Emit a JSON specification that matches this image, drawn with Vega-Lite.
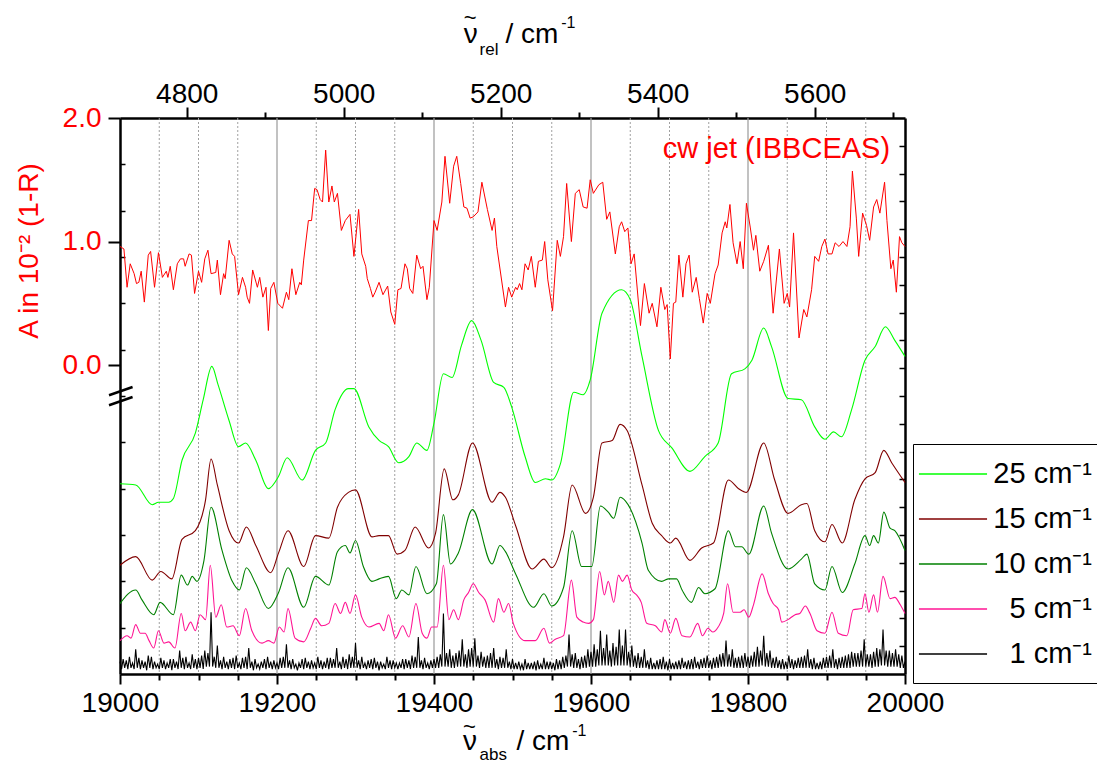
{
  "$schema": "https://vega.github.io/schema/vega-lite/v6.json",
  "width": 785,
  "height": 556,
  "autosize": {"type": "none"},
  "padding": {"left": 120, "top": 118, "right": 192, "bottom": 92},
  "background": "white",
  "config": {"font": "Liberation Sans", "view": {"stroke": null}},
  "datasets": {
    "grid": [{"g":19050},{"g":19100},{"g":19150},{"g":19200},{"g":19250},{"g":19300},{"g":19350},{"g":19400},{"g":19450},{"g":19500},{"g":19550},{"g":19600},{"g":19650},{"g":19700},{"g":19750},{"g":19800},{"g":19850},{"g":19900},{"g":19950}],
    "spec": [
      {"x":19000,"y":-0.96,"s":"25"},{"x":19020,"y":-0.97,"s":"25"},{"x":19041,"y":-1.13,"s":"25"},{"x":19049,"y":-1.11,"s":"25"},{"x":19062,"y":-1.11,"s":"25"},{"x":19068,"y":-1.08,"s":"25"},{"x":19079,"y":-0.77,"s":"25"},{"x":19096,"y":-0.55,"s":"25"},{"x":19106,"y":-0.28,"s":"25"},{"x":19117,"y":-0.01,"s":"25"},{"x":19125,"y":-0.16,"s":"25"},{"x":19139,"y":-0.45,"s":"25"},{"x":19151,"y":-0.66,"s":"25"},{"x":19160,"y":-0.63,"s":"25"},{"x":19173,"y":-0.77,"s":"25"},{"x":19189,"y":-1.00,"s":"25"},{"x":19202,"y":-0.90,"s":"25"},{"x":19213,"y":-0.75,"s":"25"},{"x":19232,"y":-0.93,"s":"25"},{"x":19249,"y":-0.69,"s":"25"},{"x":19262,"y":-0.63,"s":"25"},{"x":19274,"y":-0.36,"s":"25"},{"x":19291,"y":-0.19,"s":"25"},{"x":19298,"y":-0.19,"s":"25"},{"x":19317,"y":-0.50,"s":"25"},{"x":19330,"y":-0.61,"s":"25"},{"x":19342,"y":-0.66,"s":"25"},{"x":19355,"y":-0.79,"s":"25"},{"x":19368,"y":-0.74,"s":"25"},{"x":19378,"y":-0.63,"s":"25"},{"x":19391,"y":-0.69,"s":"25"},{"x":19400,"y":-0.47,"s":"25"},{"x":19412,"y":-0.07,"s":"25"},{"x":19423,"y":-0.10,"s":"25"},{"x":19435,"y":0.16,"s":"25"},{"x":19448,"y":0.36,"s":"25"},{"x":19460,"y":0.20,"s":"25"},{"x":19476,"y":-0.14,"s":"25"},{"x":19489,"y":-0.18,"s":"25"},{"x":19499,"y":-0.34,"s":"25"},{"x":19516,"y":-0.74,"s":"25"},{"x":19529,"y":-0.95,"s":"25"},{"x":19542,"y":-0.92,"s":"25"},{"x":19550,"y":-0.93,"s":"25"},{"x":19561,"y":-0.80,"s":"25"},{"x":19578,"y":-0.22,"s":"25"},{"x":19590,"y":-0.24,"s":"25"},{"x":19599,"y":-0.12,"s":"25"},{"x":19614,"y":0.42,"s":"25"},{"x":19639,"y":0.61,"s":"25"},{"x":19650,"y":0.53,"s":"25"},{"x":19665,"y":0.07,"s":"25"},{"x":19686,"y":-0.53,"s":"25"},{"x":19703,"y":-0.67,"s":"25"},{"x":19726,"y":-0.86,"s":"25"},{"x":19745,"y":-0.74,"s":"25"},{"x":19762,"y":-0.63,"s":"25"},{"x":19779,"y":-0.07,"s":"25"},{"x":19796,"y":-0.03,"s":"25"},{"x":19805,"y":0.04,"s":"25"},{"x":19820,"y":0.30,"s":"25"},{"x":19830,"y":0.15,"s":"25"},{"x":19851,"y":-0.27,"s":"25"},{"x":19868,"y":-0.28,"s":"25"},{"x":19885,"y":-0.50,"s":"25"},{"x":19898,"y":-0.60,"s":"25"},{"x":19909,"y":-0.54,"s":"25"},{"x":19919,"y":-0.58,"s":"25"},{"x":19932,"y":-0.36,"s":"25"},{"x":19949,"y":0.04,"s":"25"},{"x":19962,"y":0.15,"s":"25"},{"x":19975,"y":0.31,"s":"25"},{"x":19987,"y":0.20,"s":"25"},{"x":20000,"y":0.07,"s":"25"},
      {"x":19000,"y":-1.62,"s":"15"},{"x":19020,"y":-1.55,"s":"15"},{"x":19041,"y":-1.74,"s":"15"},{"x":19052,"y":-1.67,"s":"15"},{"x":19066,"y":-1.73,"s":"15"},{"x":19079,"y":-1.41,"s":"15"},{"x":19096,"y":-1.34,"s":"15"},{"x":19109,"y":-1.09,"s":"15"},{"x":19116,"y":-0.76,"s":"15"},{"x":19124,"y":-0.97,"s":"15"},{"x":19139,"y":-1.34,"s":"15"},{"x":19151,"y":-1.44,"s":"15"},{"x":19161,"y":-1.31,"s":"15"},{"x":19173,"y":-1.46,"s":"15"},{"x":19192,"y":-1.68,"s":"15"},{"x":19202,"y":-1.52,"s":"15"},{"x":19214,"y":-1.34,"s":"15"},{"x":19234,"y":-1.63,"s":"15"},{"x":19249,"y":-1.38,"s":"15"},{"x":19266,"y":-1.40,"s":"15"},{"x":19277,"y":-1.15,"s":"15"},{"x":19291,"y":-1.03,"s":"15"},{"x":19300,"y":-1.01,"s":"15"},{"x":19321,"y":-1.39,"s":"15"},{"x":19330,"y":-1.38,"s":"15"},{"x":19342,"y":-1.38,"s":"15"},{"x":19353,"y":-1.53,"s":"15"},{"x":19363,"y":-1.50,"s":"15"},{"x":19376,"y":-1.31,"s":"15"},{"x":19393,"y":-1.48,"s":"15"},{"x":19402,"y":-1.36,"s":"15"},{"x":19413,"y":-0.84,"s":"15"},{"x":19424,"y":-1.09,"s":"15"},{"x":19431,"y":-1.05,"s":"15"},{"x":19449,"y":-0.63,"s":"15"},{"x":19474,"y":-1.11,"s":"15"},{"x":19484,"y":-1.03,"s":"15"},{"x":19491,"y":-1.07,"s":"15"},{"x":19504,"y":-1.30,"s":"15"},{"x":19525,"y":-1.65,"s":"15"},{"x":19540,"y":-1.57,"s":"15"},{"x":19550,"y":-1.64,"s":"15"},{"x":19565,"y":-1.39,"s":"15"},{"x":19576,"y":-0.97,"s":"15"},{"x":19593,"y":-1.20,"s":"15"},{"x":19603,"y":-1.07,"s":"15"},{"x":19614,"y":-0.63,"s":"15"},{"x":19627,"y":-0.61,"s":"15"},{"x":19637,"y":-0.48,"s":"15"},{"x":19646,"y":-0.53,"s":"15"},{"x":19665,"y":-0.97,"s":"15"},{"x":19678,"y":-1.28,"s":"15"},{"x":19690,"y":-1.38,"s":"15"},{"x":19701,"y":-1.44,"s":"15"},{"x":19708,"y":-1.40,"s":"15"},{"x":19726,"y":-1.58,"s":"15"},{"x":19741,"y":-1.48,"s":"15"},{"x":19756,"y":-1.44,"s":"15"},{"x":19775,"y":-0.93,"s":"15"},{"x":19788,"y":-1.00,"s":"15"},{"x":19798,"y":-1.03,"s":"15"},{"x":19820,"y":-0.63,"s":"15"},{"x":19834,"y":-0.93,"s":"15"},{"x":19851,"y":-1.20,"s":"15"},{"x":19868,"y":-1.13,"s":"15"},{"x":19875,"y":-1.12,"s":"15"},{"x":19885,"y":-1.34,"s":"15"},{"x":19898,"y":-1.43,"s":"15"},{"x":19907,"y":-1.29,"s":"15"},{"x":19920,"y":-1.44,"s":"15"},{"x":19936,"y":-1.09,"s":"15"},{"x":19949,"y":-0.92,"s":"15"},{"x":19962,"y":-0.87,"s":"15"},{"x":19973,"y":-0.69,"s":"15"},{"x":19983,"y":-0.79,"s":"15"},{"x":20000,"y":-0.95,"s":"15"},
      {"x":19000,"y":-1.93,"s":"10"},{"x":19020,"y":-1.82,"s":"10"},{"x":19028,"y":-1.90,"s":"10"},{"x":19043,"y":-2.02,"s":"10"},{"x":19051,"y":-1.92,"s":"10"},{"x":19068,"y":-2.02,"s":"10"},{"x":19078,"y":-1.70,"s":"10"},{"x":19086,"y":-1.78,"s":"10"},{"x":19092,"y":-1.71,"s":"10"},{"x":19098,"y":-1.75,"s":"10"},{"x":19107,"y":-1.58,"s":"10"},{"x":19116,"y":-1.15,"s":"10"},{"x":19130,"y":-1.50,"s":"10"},{"x":19143,"y":-1.75,"s":"10"},{"x":19152,"y":-1.82,"s":"10"},{"x":19161,"y":-1.64,"s":"10"},{"x":19173,"y":-1.77,"s":"10"},{"x":19189,"y":-1.97,"s":"10"},{"x":19202,"y":-1.84,"s":"10"},{"x":19214,"y":-1.64,"s":"10"},{"x":19234,"y":-1.96,"s":"10"},{"x":19249,"y":-1.71,"s":"10"},{"x":19266,"y":-1.78,"s":"10"},{"x":19277,"y":-1.51,"s":"10"},{"x":19287,"y":-1.46,"s":"10"},{"x":19293,"y":-1.52,"s":"10"},{"x":19300,"y":-1.42,"s":"10"},{"x":19310,"y":-1.63,"s":"10"},{"x":19321,"y":-1.75,"s":"10"},{"x":19330,"y":-1.73,"s":"10"},{"x":19342,"y":-1.71,"s":"10"},{"x":19352,"y":-1.89,"s":"10"},{"x":19359,"y":-1.82,"s":"10"},{"x":19368,"y":-1.86,"s":"10"},{"x":19377,"y":-1.63,"s":"10"},{"x":19391,"y":-1.85,"s":"10"},{"x":19403,"y":-1.77,"s":"10"},{"x":19412,"y":-1.21,"s":"10"},{"x":19421,"y":-1.61,"s":"10"},{"x":19431,"y":-1.52,"s":"10"},{"x":19449,"y":-1.17,"s":"10"},{"x":19474,"y":-1.61,"s":"10"},{"x":19484,"y":-1.46,"s":"10"},{"x":19491,"y":-1.51,"s":"10"},{"x":19504,"y":-1.69,"s":"10"},{"x":19527,"y":-1.96,"s":"10"},{"x":19540,"y":-1.85,"s":"10"},{"x":19550,"y":-1.95,"s":"10"},{"x":19565,"y":-1.80,"s":"10"},{"x":19576,"y":-1.34,"s":"10"},{"x":19588,"y":-1.63,"s":"10"},{"x":19601,"y":-1.63,"s":"10"},{"x":19612,"y":-1.14,"s":"10"},{"x":19622,"y":-1.19,"s":"10"},{"x":19629,"y":-1.24,"s":"10"},{"x":19637,"y":-1.07,"s":"10"},{"x":19644,"y":-1.10,"s":"10"},{"x":19665,"y":-1.44,"s":"10"},{"x":19673,"y":-1.66,"s":"10"},{"x":19690,"y":-1.75,"s":"10"},{"x":19699,"y":-1.73,"s":"10"},{"x":19709,"y":-1.73,"s":"10"},{"x":19716,"y":-1.82,"s":"10"},{"x":19728,"y":-1.92,"s":"10"},{"x":19737,"y":-1.80,"s":"10"},{"x":19745,"y":-1.85,"s":"10"},{"x":19758,"y":-1.81,"s":"10"},{"x":19775,"y":-1.34,"s":"10"},{"x":19784,"y":-1.47,"s":"10"},{"x":19792,"y":-1.47,"s":"10"},{"x":19801,"y":-1.53,"s":"10"},{"x":19820,"y":-1.14,"s":"10"},{"x":19830,"y":-1.36,"s":"10"},{"x":19851,"y":-1.65,"s":"10"},{"x":19868,"y":-1.57,"s":"10"},{"x":19875,"y":-1.53,"s":"10"},{"x":19885,"y":-1.77,"s":"10"},{"x":19898,"y":-1.82,"s":"10"},{"x":19907,"y":-1.63,"s":"10"},{"x":19920,"y":-1.84,"s":"10"},{"x":19936,"y":-1.61,"s":"10"},{"x":19949,"y":-1.38,"s":"10"},{"x":19955,"y":-1.46,"s":"10"},{"x":19960,"y":-1.38,"s":"10"},{"x":19966,"y":-1.44,"s":"10"},{"x":19973,"y":-1.19,"s":"10"},{"x":19981,"y":-1.32,"s":"10"},{"x":19987,"y":-1.34,"s":"10"},{"x":20000,"y":-1.50,"s":"10"},
      {"x":19000,"y":-2.23,"s":"5"},{"x":19009,"y":-2.19,"s":"5"},{"x":19014,"y":-2.21,"s":"5"},{"x":19020,"y":-2.10,"s":"5"},{"x":19026,"y":-2.17,"s":"5"},{"x":19032,"y":-2.17,"s":"5"},{"x":19037,"y":-2.23,"s":"5"},{"x":19043,"y":-2.29,"s":"5"},{"x":19049,"y":-2.15,"s":"5"},{"x":19056,"y":-2.25,"s":"5"},{"x":19062,"y":-2.24,"s":"5"},{"x":19070,"y":-2.29,"s":"5"},{"x":19078,"y":-2.01,"s":"5"},{"x":19083,"y":-2.15,"s":"5"},{"x":19090,"y":-2.08,"s":"5"},{"x":19096,"y":-2.15,"s":"5"},{"x":19102,"y":-2.02,"s":"5"},{"x":19109,"y":-2.06,"s":"5"},{"x":19115,"y":-1.62,"s":"5"},{"x":19122,"y":-2.04,"s":"5"},{"x":19129,"y":-1.94,"s":"5"},{"x":19136,"y":-2.12,"s":"5"},{"x":19144,"y":-2.11,"s":"5"},{"x":19152,"y":-2.19,"s":"5"},{"x":19160,"y":-1.97,"s":"5"},{"x":19168,"y":-2.15,"s":"5"},{"x":19181,"y":-2.25,"s":"5"},{"x":19189,"y":-2.23,"s":"5"},{"x":19196,"y":-2.25,"s":"5"},{"x":19203,"y":-2.12,"s":"5"},{"x":19209,"y":-2.16,"s":"5"},{"x":19214,"y":-1.97,"s":"5"},{"x":19223,"y":-2.21,"s":"5"},{"x":19234,"y":-2.24,"s":"5"},{"x":19243,"y":-2.13,"s":"5"},{"x":19249,"y":-2.05,"s":"5"},{"x":19257,"y":-2.11,"s":"5"},{"x":19266,"y":-2.09,"s":"5"},{"x":19274,"y":-1.93,"s":"5"},{"x":19281,"y":-2.01,"s":"5"},{"x":19287,"y":-1.92,"s":"5"},{"x":19293,"y":-2.01,"s":"5"},{"x":19300,"y":-1.86,"s":"5"},{"x":19308,"y":-2.04,"s":"5"},{"x":19317,"y":-2.12,"s":"5"},{"x":19330,"y":-2.09,"s":"5"},{"x":19336,"y":-2.15,"s":"5"},{"x":19342,"y":-2.02,"s":"5"},{"x":19351,"y":-2.21,"s":"5"},{"x":19360,"y":-2.11,"s":"5"},{"x":19368,"y":-2.20,"s":"5"},{"x":19377,"y":-1.93,"s":"5"},{"x":19385,"y":-2.17,"s":"5"},{"x":19391,"y":-2.21,"s":"5"},{"x":19397,"y":-2.12,"s":"5"},{"x":19404,"y":-2.12,"s":"5"},{"x":19412,"y":-1.62,"s":"5"},{"x":19419,"y":-2.06,"s":"5"},{"x":19425,"y":-1.98,"s":"5"},{"x":19431,"y":-2.06,"s":"5"},{"x":19438,"y":-1.90,"s":"5"},{"x":19444,"y":-1.84,"s":"5"},{"x":19450,"y":-1.77,"s":"5"},{"x":19457,"y":-1.84,"s":"5"},{"x":19465,"y":-1.90,"s":"5"},{"x":19476,"y":-2.08,"s":"5"},{"x":19482,"y":-1.89,"s":"5"},{"x":19489,"y":-2.00,"s":"5"},{"x":19495,"y":-1.93,"s":"5"},{"x":19501,"y":-2.09,"s":"5"},{"x":19516,"y":-2.23,"s":"5"},{"x":19529,"y":-2.23,"s":"5"},{"x":19540,"y":-2.13,"s":"5"},{"x":19547,"y":-2.25,"s":"5"},{"x":19554,"y":-2.22,"s":"5"},{"x":19565,"y":-2.19,"s":"5"},{"x":19575,"y":-1.74,"s":"5"},{"x":19582,"y":-2.04,"s":"5"},{"x":19590,"y":-2.08,"s":"5"},{"x":19597,"y":-2.09,"s":"5"},{"x":19603,"y":-2.06,"s":"5"},{"x":19611,"y":-1.67,"s":"5"},{"x":19617,"y":-1.86,"s":"5"},{"x":19622,"y":-1.75,"s":"5"},{"x":19629,"y":-1.92,"s":"5"},{"x":19635,"y":-1.70,"s":"5"},{"x":19640,"y":-1.75,"s":"5"},{"x":19646,"y":-1.70,"s":"5"},{"x":19652,"y":-1.82,"s":"5"},{"x":19658,"y":-1.86,"s":"5"},{"x":19664,"y":-1.92,"s":"5"},{"x":19671,"y":-2.09,"s":"5"},{"x":19682,"y":-2.11,"s":"5"},{"x":19690,"y":-2.16,"s":"5"},{"x":19694,"y":-2.06,"s":"5"},{"x":19701,"y":-2.17,"s":"5"},{"x":19708,"y":-2.05,"s":"5"},{"x":19716,"y":-2.19,"s":"5"},{"x":19726,"y":-2.20,"s":"5"},{"x":19736,"y":-2.09,"s":"5"},{"x":19742,"y":-2.19,"s":"5"},{"x":19749,"y":-2.13,"s":"5"},{"x":19755,"y":-2.16,"s":"5"},{"x":19762,"y":-2.12,"s":"5"},{"x":19769,"y":-2.01,"s":"5"},{"x":19774,"y":-1.77,"s":"5"},{"x":19781,"y":-2.00,"s":"5"},{"x":19790,"y":-2.00,"s":"5"},{"x":19795,"y":-1.98,"s":"5"},{"x":19801,"y":-2.04,"s":"5"},{"x":19807,"y":-1.94,"s":"5"},{"x":19818,"y":-1.69,"s":"5"},{"x":19826,"y":-1.85,"s":"5"},{"x":19832,"y":-1.93,"s":"5"},{"x":19839,"y":-1.98,"s":"5"},{"x":19843,"y":-2.08,"s":"5"},{"x":19851,"y":-2.06,"s":"5"},{"x":19860,"y":-2.02,"s":"5"},{"x":19866,"y":-2.01,"s":"5"},{"x":19873,"y":-1.95,"s":"5"},{"x":19879,"y":-2.01,"s":"5"},{"x":19888,"y":-2.15,"s":"5"},{"x":19898,"y":-2.17,"s":"5"},{"x":19907,"y":-2.00,"s":"5"},{"x":19915,"y":-2.17,"s":"5"},{"x":19926,"y":-2.19,"s":"5"},{"x":19934,"y":-1.98,"s":"5"},{"x":19945,"y":-1.97,"s":"5"},{"x":19949,"y":-1.85,"s":"5"},{"x":19954,"y":-2.00,"s":"5"},{"x":19960,"y":-1.86,"s":"5"},{"x":19965,"y":-2.00,"s":"5"},{"x":19972,"y":-1.71,"s":"5"},{"x":19981,"y":-1.89,"s":"5"},{"x":19987,"y":-1.88,"s":"5"},{"x":19994,"y":-1.94,"s":"5"},{"x":20000,"y":-2.01,"s":"5"}
    ],
    "black": [
      {"x":19000,"y":-2.40,"s":"1"},{"x":19002,"y":-2.46,"s":"1"},{"x":19004,"y":-2.38,"s":"1"},{"x":19006,"y":-2.45,"s":"1"},
      {"x":19008,"y":-2.39,"s":"1"},{"x":19010,"y":-2.46,"s":"1"},{"x":19012,"y":-2.36,"s":"1"},{"x":19014,"y":-2.45,"s":"1"},
      {"x":19016,"y":-2.41,"s":"1"},{"x":19018,"y":-2.46,"s":"1"},{"x":19020,"y":-2.30,"s":"1"},{"x":19022,"y":-2.45,"s":"1"},
      {"x":19024,"y":-2.37,"s":"1"},{"x":19026,"y":-2.46,"s":"1"},{"x":19028,"y":-2.39,"s":"1"},{"x":19030,"y":-2.45,"s":"1"},
      {"x":19032,"y":-2.40,"s":"1"},{"x":19034,"y":-2.47,"s":"1"},{"x":19036,"y":-2.35,"s":"1"},{"x":19038,"y":-2.45,"s":"1"},
      {"x":19040,"y":-2.36,"s":"1"},{"x":19042,"y":-2.46,"s":"1"},{"x":19044,"y":-2.40,"s":"1"},{"x":19046,"y":-2.45,"s":"1"},
      {"x":19048,"y":-2.42,"s":"1"},{"x":19050,"y":-2.46,"s":"1"},{"x":19052,"y":-2.37,"s":"1"},{"x":19054,"y":-2.45,"s":"1"},
      {"x":19056,"y":-2.39,"s":"1"},{"x":19058,"y":-2.46,"s":"1"},{"x":19060,"y":-2.41,"s":"1"},{"x":19062,"y":-2.45,"s":"1"},
      {"x":19064,"y":-2.38,"s":"1"},{"x":19066,"y":-2.47,"s":"1"},{"x":19068,"y":-2.38,"s":"1"},{"x":19070,"y":-2.45,"s":"1"},
      {"x":19072,"y":-2.40,"s":"1"},{"x":19074,"y":-2.46,"s":"1"},{"x":19076,"y":-2.31,"s":"1"},{"x":19078,"y":-2.45,"s":"1"},
      {"x":19080,"y":-2.37,"s":"1"},{"x":19082,"y":-2.46,"s":"1"},{"x":19084,"y":-2.36,"s":"1"},{"x":19086,"y":-2.45,"s":"1"},
      {"x":19088,"y":-2.41,"s":"1"},{"x":19090,"y":-2.46,"s":"1"},{"x":19092,"y":-2.34,"s":"1"},{"x":19094,"y":-2.45,"s":"1"},
      {"x":19096,"y":-2.38,"s":"1"},{"x":19098,"y":-2.46,"s":"1"},{"x":19100,"y":-2.37,"s":"1"},{"x":19102,"y":-2.45,"s":"1"},
      {"x":19104,"y":-2.35,"s":"1"},{"x":19106,"y":-2.46,"s":"1"},{"x":19108,"y":-2.31,"s":"1"},{"x":19110,"y":-2.44,"s":"1"},
      {"x":19112,"y":-2.33,"s":"1"},{"x":19114,"y":-2.44,"s":"1"},{"x":19116,"y":-2.00,"s":"1"},{"x":19118,"y":-2.44,"s":"1"},
      {"x":19120,"y":-2.36,"s":"1"},{"x":19122,"y":-2.45,"s":"1"},{"x":19124,"y":-2.27,"s":"1"},{"x":19126,"y":-2.45,"s":"1"},
      {"x":19128,"y":-2.39,"s":"1"},{"x":19130,"y":-2.46,"s":"1"},{"x":19132,"y":-2.36,"s":"1"},{"x":19134,"y":-2.45,"s":"1"},
      {"x":19136,"y":-2.40,"s":"1"},{"x":19138,"y":-2.46,"s":"1"},{"x":19140,"y":-2.38,"s":"1"},{"x":19142,"y":-2.45,"s":"1"},
      {"x":19144,"y":-2.37,"s":"1"},{"x":19146,"y":-2.46,"s":"1"},{"x":19148,"y":-2.35,"s":"1"},{"x":19150,"y":-2.45,"s":"1"},
      {"x":19152,"y":-2.41,"s":"1"},{"x":19154,"y":-2.46,"s":"1"},{"x":19156,"y":-2.37,"s":"1"},{"x":19158,"y":-2.45,"s":"1"},
      {"x":19160,"y":-2.36,"s":"1"},{"x":19162,"y":-2.46,"s":"1"},{"x":19164,"y":-2.29,"s":"1"},{"x":19166,"y":-2.45,"s":"1"},
      {"x":19168,"y":-2.40,"s":"1"},{"x":19170,"y":-2.47,"s":"1"},{"x":19172,"y":-2.38,"s":"1"},{"x":19174,"y":-2.45,"s":"1"},
      {"x":19176,"y":-2.42,"s":"1"},{"x":19178,"y":-2.46,"s":"1"},{"x":19180,"y":-2.40,"s":"1"},{"x":19182,"y":-2.45,"s":"1"},
      {"x":19184,"y":-2.38,"s":"1"},{"x":19186,"y":-2.46,"s":"1"},{"x":19188,"y":-2.36,"s":"1"},{"x":19190,"y":-2.45,"s":"1"},
      {"x":19192,"y":-2.40,"s":"1"},{"x":19194,"y":-2.46,"s":"1"},{"x":19196,"y":-2.39,"s":"1"},{"x":19198,"y":-2.45,"s":"1"},
      {"x":19200,"y":-2.41,"s":"1"},{"x":19202,"y":-2.46,"s":"1"},{"x":19204,"y":-2.37,"s":"1"},{"x":19206,"y":-2.45,"s":"1"},
      {"x":19208,"y":-2.36,"s":"1"},{"x":19210,"y":-2.45,"s":"1"},{"x":19212,"y":-2.26,"s":"1"},{"x":19214,"y":-2.45,"s":"1"},
      {"x":19216,"y":-2.39,"s":"1"},{"x":19218,"y":-2.46,"s":"1"},{"x":19220,"y":-2.38,"s":"1"},{"x":19222,"y":-2.45,"s":"1"},
      {"x":19224,"y":-2.42,"s":"1"},{"x":19226,"y":-2.47,"s":"1"},{"x":19228,"y":-2.41,"s":"1"},{"x":19230,"y":-2.45,"s":"1"},
      {"x":19232,"y":-2.38,"s":"1"},{"x":19234,"y":-2.46,"s":"1"},{"x":19236,"y":-2.37,"s":"1"},{"x":19238,"y":-2.45,"s":"1"},
      {"x":19240,"y":-2.40,"s":"1"},{"x":19242,"y":-2.46,"s":"1"},{"x":19244,"y":-2.39,"s":"1"},{"x":19246,"y":-2.45,"s":"1"},
      {"x":19248,"y":-2.41,"s":"1"},{"x":19250,"y":-2.46,"s":"1"},{"x":19252,"y":-2.36,"s":"1"},{"x":19254,"y":-2.45,"s":"1"},
      {"x":19256,"y":-2.39,"s":"1"},{"x":19258,"y":-2.46,"s":"1"},{"x":19260,"y":-2.40,"s":"1"},{"x":19262,"y":-2.45,"s":"1"},
      {"x":19264,"y":-2.37,"s":"1"},{"x":19266,"y":-2.46,"s":"1"},{"x":19268,"y":-2.37,"s":"1"},{"x":19270,"y":-2.45,"s":"1"},
      {"x":19272,"y":-2.38,"s":"1"},{"x":19274,"y":-2.45,"s":"1"},{"x":19276,"y":-2.29,"s":"1"},{"x":19278,"y":-2.45,"s":"1"},
      {"x":19280,"y":-2.40,"s":"1"},{"x":19282,"y":-2.46,"s":"1"},{"x":19284,"y":-2.36,"s":"1"},{"x":19286,"y":-2.45,"s":"1"},
      {"x":19288,"y":-2.38,"s":"1"},{"x":19290,"y":-2.46,"s":"1"},{"x":19292,"y":-2.34,"s":"1"},{"x":19294,"y":-2.45,"s":"1"},
      {"x":19296,"y":-2.36,"s":"1"},{"x":19298,"y":-2.45,"s":"1"},{"x":19300,"y":-2.25,"s":"1"},{"x":19302,"y":-2.45,"s":"1"},
      {"x":19304,"y":-2.39,"s":"1"},{"x":19306,"y":-2.46,"s":"1"},{"x":19308,"y":-2.36,"s":"1"},{"x":19310,"y":-2.45,"s":"1"},
      {"x":19312,"y":-2.41,"s":"1"},{"x":19314,"y":-2.46,"s":"1"},{"x":19316,"y":-2.39,"s":"1"},{"x":19318,"y":-2.45,"s":"1"},
      {"x":19320,"y":-2.38,"s":"1"},{"x":19322,"y":-2.46,"s":"1"},{"x":19324,"y":-2.37,"s":"1"},{"x":19326,"y":-2.45,"s":"1"},
      {"x":19328,"y":-2.40,"s":"1"},{"x":19330,"y":-2.47,"s":"1"},{"x":19332,"y":-2.40,"s":"1"},{"x":19334,"y":-2.45,"s":"1"},
      {"x":19336,"y":-2.42,"s":"1"},{"x":19338,"y":-2.46,"s":"1"},{"x":19340,"y":-2.36,"s":"1"},{"x":19342,"y":-2.45,"s":"1"},
      {"x":19344,"y":-2.39,"s":"1"},{"x":19346,"y":-2.46,"s":"1"},{"x":19348,"y":-2.39,"s":"1"},{"x":19350,"y":-2.45,"s":"1"},
      {"x":19352,"y":-2.41,"s":"1"},{"x":19354,"y":-2.46,"s":"1"},{"x":19356,"y":-2.41,"s":"1"},{"x":19358,"y":-2.45,"s":"1"},
      {"x":19360,"y":-2.38,"s":"1"},{"x":19362,"y":-2.46,"s":"1"},{"x":19364,"y":-2.38,"s":"1"},{"x":19366,"y":-2.45,"s":"1"},
      {"x":19368,"y":-2.39,"s":"1"},{"x":19370,"y":-2.46,"s":"1"},{"x":19372,"y":-2.35,"s":"1"},{"x":19374,"y":-2.45,"s":"1"},
      {"x":19376,"y":-2.36,"s":"1"},{"x":19378,"y":-2.45,"s":"1"},{"x":19380,"y":-2.20,"s":"1"},{"x":19382,"y":-2.45,"s":"1"},
      {"x":19384,"y":-2.39,"s":"1"},{"x":19386,"y":-2.46,"s":"1"},{"x":19388,"y":-2.37,"s":"1"},{"x":19390,"y":-2.45,"s":"1"},
      {"x":19392,"y":-2.41,"s":"1"},{"x":19394,"y":-2.46,"s":"1"},{"x":19396,"y":-2.39,"s":"1"},{"x":19398,"y":-2.45,"s":"1"},
      {"x":19400,"y":-2.38,"s":"1"},{"x":19402,"y":-2.45,"s":"1"},{"x":19404,"y":-2.36,"s":"1"},{"x":19406,"y":-2.45,"s":"1"},
      {"x":19408,"y":-2.34,"s":"1"},{"x":19410,"y":-2.44,"s":"1"},{"x":19412,"y":-2.01,"s":"1"},{"x":19414,"y":-2.44,"s":"1"},
      {"x":19416,"y":-2.33,"s":"1"},{"x":19418,"y":-2.44,"s":"1"},{"x":19420,"y":-2.30,"s":"1"},{"x":19422,"y":-2.45,"s":"1"},
      {"x":19424,"y":-2.35,"s":"1"},{"x":19426,"y":-2.45,"s":"1"},{"x":19428,"y":-2.33,"s":"1"},{"x":19430,"y":-2.44,"s":"1"},
      {"x":19432,"y":-2.31,"s":"1"},{"x":19434,"y":-2.44,"s":"1"},{"x":19436,"y":-2.22,"s":"1"},{"x":19438,"y":-2.44,"s":"1"},
      {"x":19440,"y":-2.34,"s":"1"},{"x":19442,"y":-2.45,"s":"1"},{"x":19444,"y":-2.30,"s":"1"},{"x":19446,"y":-2.44,"s":"1"},
      {"x":19448,"y":-2.29,"s":"1"},{"x":19450,"y":-2.44,"s":"1"},{"x":19452,"y":-2.21,"s":"1"},{"x":19454,"y":-2.44,"s":"1"},
      {"x":19456,"y":-2.35,"s":"1"},{"x":19458,"y":-2.45,"s":"1"},{"x":19460,"y":-2.32,"s":"1"},{"x":19462,"y":-2.44,"s":"1"},
      {"x":19464,"y":-2.36,"s":"1"},{"x":19466,"y":-2.45,"s":"1"},{"x":19468,"y":-2.35,"s":"1"},{"x":19470,"y":-2.45,"s":"1"},
      {"x":19472,"y":-2.33,"s":"1"},{"x":19474,"y":-2.45,"s":"1"},{"x":19476,"y":-2.29,"s":"1"},{"x":19478,"y":-2.45,"s":"1"},
      {"x":19480,"y":-2.38,"s":"1"},{"x":19482,"y":-2.46,"s":"1"},{"x":19484,"y":-2.36,"s":"1"},{"x":19486,"y":-2.45,"s":"1"},
      {"x":19488,"y":-2.37,"s":"1"},{"x":19490,"y":-2.45,"s":"1"},{"x":19492,"y":-2.30,"s":"1"},{"x":19494,"y":-2.45,"s":"1"},
      {"x":19496,"y":-2.40,"s":"1"},{"x":19498,"y":-2.46,"s":"1"},{"x":19500,"y":-2.38,"s":"1"},{"x":19502,"y":-2.46,"s":"1"},
      {"x":19504,"y":-2.41,"s":"1"},{"x":19506,"y":-2.46,"s":"1"},{"x":19508,"y":-2.40,"s":"1"},{"x":19510,"y":-2.46,"s":"1"},
      {"x":19512,"y":-2.42,"s":"1"},{"x":19514,"y":-2.47,"s":"1"},{"x":19516,"y":-2.38,"s":"1"},{"x":19518,"y":-2.46,"s":"1"},
      {"x":19520,"y":-2.41,"s":"1"},{"x":19522,"y":-2.46,"s":"1"},{"x":19524,"y":-2.41,"s":"1"},{"x":19526,"y":-2.46,"s":"1"},
      {"x":19528,"y":-2.40,"s":"1"},{"x":19530,"y":-2.47,"s":"1"},{"x":19532,"y":-2.39,"s":"1"},{"x":19534,"y":-2.46,"s":"1"},
      {"x":19536,"y":-2.42,"s":"1"},{"x":19538,"y":-2.46,"s":"1"},{"x":19540,"y":-2.37,"s":"1"},{"x":19542,"y":-2.46,"s":"1"},
      {"x":19544,"y":-2.40,"s":"1"},{"x":19546,"y":-2.46,"s":"1"},{"x":19548,"y":-2.40,"s":"1"},{"x":19550,"y":-2.46,"s":"1"},
      {"x":19552,"y":-2.41,"s":"1"},{"x":19554,"y":-2.47,"s":"1"},{"x":19556,"y":-2.38,"s":"1"},{"x":19558,"y":-2.46,"s":"1"},
      {"x":19560,"y":-2.39,"s":"1"},{"x":19562,"y":-2.46,"s":"1"},{"x":19564,"y":-2.36,"s":"1"},{"x":19566,"y":-2.45,"s":"1"},
      {"x":19568,"y":-2.35,"s":"1"},{"x":19570,"y":-2.44,"s":"1"},{"x":19572,"y":-2.18,"s":"1"},{"x":19574,"y":-2.44,"s":"1"},
      {"x":19576,"y":-2.34,"s":"1"},{"x":19578,"y":-2.45,"s":"1"},{"x":19580,"y":-2.33,"s":"1"},{"x":19582,"y":-2.45,"s":"1"},
      {"x":19584,"y":-2.38,"s":"1"},{"x":19586,"y":-2.46,"s":"1"},{"x":19588,"y":-2.36,"s":"1"},{"x":19590,"y":-2.45,"s":"1"},
      {"x":19592,"y":-2.35,"s":"1"},{"x":19594,"y":-2.45,"s":"1"},{"x":19596,"y":-2.30,"s":"1"},{"x":19598,"y":-2.44,"s":"1"},
      {"x":19600,"y":-2.32,"s":"1"},{"x":19602,"y":-2.44,"s":"1"},{"x":19604,"y":-2.26,"s":"1"},{"x":19606,"y":-2.44,"s":"1"},
      {"x":19608,"y":-2.30,"s":"1"},{"x":19610,"y":-2.43,"s":"1"},{"x":19612,"y":-2.15,"s":"1"},{"x":19614,"y":-2.43,"s":"1"},
      {"x":19616,"y":-2.29,"s":"1"},{"x":19618,"y":-2.43,"s":"1"},{"x":19620,"y":-2.18,"s":"1"},{"x":19622,"y":-2.43,"s":"1"},
      {"x":19624,"y":-2.31,"s":"1"},{"x":19626,"y":-2.44,"s":"1"},{"x":19628,"y":-2.25,"s":"1"},{"x":19630,"y":-2.43,"s":"1"},
      {"x":19632,"y":-2.28,"s":"1"},{"x":19634,"y":-2.43,"s":"1"},{"x":19636,"y":-2.14,"s":"1"},{"x":19638,"y":-2.43,"s":"1"},
      {"x":19640,"y":-2.27,"s":"1"},{"x":19642,"y":-2.43,"s":"1"},{"x":19644,"y":-2.14,"s":"1"},{"x":19646,"y":-2.43,"s":"1"},
      {"x":19648,"y":-2.32,"s":"1"},{"x":19650,"y":-2.44,"s":"1"},{"x":19652,"y":-2.27,"s":"1"},{"x":19654,"y":-2.44,"s":"1"},
      {"x":19656,"y":-2.35,"s":"1"},{"x":19658,"y":-2.45,"s":"1"},{"x":19660,"y":-2.33,"s":"1"},{"x":19662,"y":-2.45,"s":"1"},
      {"x":19664,"y":-2.36,"s":"1"},{"x":19666,"y":-2.45,"s":"1"},{"x":19668,"y":-2.30,"s":"1"},{"x":19670,"y":-2.45,"s":"1"},
      {"x":19672,"y":-2.39,"s":"1"},{"x":19674,"y":-2.46,"s":"1"},{"x":19676,"y":-2.37,"s":"1"},{"x":19678,"y":-2.46,"s":"1"},
      {"x":19680,"y":-2.41,"s":"1"},{"x":19682,"y":-2.46,"s":"1"},{"x":19684,"y":-2.39,"s":"1"},{"x":19686,"y":-2.46,"s":"1"},
      {"x":19688,"y":-2.38,"s":"1"},{"x":19690,"y":-2.46,"s":"1"},{"x":19692,"y":-2.36,"s":"1"},{"x":19694,"y":-2.46,"s":"1"},
      {"x":19696,"y":-2.40,"s":"1"},{"x":19698,"y":-2.47,"s":"1"},{"x":19700,"y":-2.38,"s":"1"},{"x":19702,"y":-2.46,"s":"1"},
      {"x":19704,"y":-2.41,"s":"1"},{"x":19706,"y":-2.46,"s":"1"},{"x":19708,"y":-2.40,"s":"1"},{"x":19710,"y":-2.46,"s":"1"},
      {"x":19712,"y":-2.39,"s":"1"},{"x":19714,"y":-2.46,"s":"1"},{"x":19716,"y":-2.37,"s":"1"},{"x":19718,"y":-2.45,"s":"1"},
      {"x":19720,"y":-2.40,"s":"1"},{"x":19722,"y":-2.46,"s":"1"},{"x":19724,"y":-2.39,"s":"1"},{"x":19726,"y":-2.46,"s":"1"},
      {"x":19728,"y":-2.38,"s":"1"},{"x":19730,"y":-2.46,"s":"1"},{"x":19732,"y":-2.36,"s":"1"},{"x":19734,"y":-2.45,"s":"1"},
      {"x":19736,"y":-2.40,"s":"1"},{"x":19738,"y":-2.46,"s":"1"},{"x":19740,"y":-2.38,"s":"1"},{"x":19742,"y":-2.45,"s":"1"},
      {"x":19744,"y":-2.37,"s":"1"},{"x":19746,"y":-2.45,"s":"1"},{"x":19748,"y":-2.35,"s":"1"},{"x":19750,"y":-2.45,"s":"1"},
      {"x":19752,"y":-2.39,"s":"1"},{"x":19754,"y":-2.46,"s":"1"},{"x":19756,"y":-2.37,"s":"1"},{"x":19758,"y":-2.45,"s":"1"},
      {"x":19760,"y":-2.36,"s":"1"},{"x":19762,"y":-2.45,"s":"1"},{"x":19764,"y":-2.34,"s":"1"},{"x":19766,"y":-2.44,"s":"1"},
      {"x":19768,"y":-2.33,"s":"1"},{"x":19770,"y":-2.44,"s":"1"},{"x":19772,"y":-2.23,"s":"1"},{"x":19774,"y":-2.44,"s":"1"},
      {"x":19776,"y":-2.34,"s":"1"},{"x":19778,"y":-2.44,"s":"1"},{"x":19780,"y":-2.30,"s":"1"},{"x":19782,"y":-2.45,"s":"1"},
      {"x":19784,"y":-2.37,"s":"1"},{"x":19786,"y":-2.45,"s":"1"},{"x":19788,"y":-2.36,"s":"1"},{"x":19790,"y":-2.45,"s":"1"},
      {"x":19792,"y":-2.35,"s":"1"},{"x":19794,"y":-2.45,"s":"1"},{"x":19796,"y":-2.33,"s":"1"},{"x":19798,"y":-2.44,"s":"1"},
      {"x":19800,"y":-2.36,"s":"1"},{"x":19802,"y":-2.45,"s":"1"},{"x":19804,"y":-2.35,"s":"1"},{"x":19806,"y":-2.44,"s":"1"},
      {"x":19808,"y":-2.32,"s":"1"},{"x":19810,"y":-2.44,"s":"1"},{"x":19812,"y":-2.28,"s":"1"},{"x":19814,"y":-2.44,"s":"1"},
      {"x":19816,"y":-2.31,"s":"1"},{"x":19818,"y":-2.43,"s":"1"},{"x":19820,"y":-2.19,"s":"1"},{"x":19822,"y":-2.44,"s":"1"},
      {"x":19824,"y":-2.33,"s":"1"},{"x":19826,"y":-2.44,"s":"1"},{"x":19828,"y":-2.31,"s":"1"},{"x":19830,"y":-2.45,"s":"1"},
      {"x":19832,"y":-2.37,"s":"1"},{"x":19834,"y":-2.45,"s":"1"},{"x":19836,"y":-2.36,"s":"1"},{"x":19838,"y":-2.45,"s":"1"},
      {"x":19840,"y":-2.39,"s":"1"},{"x":19842,"y":-2.46,"s":"1"},{"x":19844,"y":-2.38,"s":"1"},{"x":19846,"y":-2.46,"s":"1"},
      {"x":19848,"y":-2.40,"s":"1"},{"x":19850,"y":-2.46,"s":"1"},{"x":19852,"y":-2.35,"s":"1"},{"x":19854,"y":-2.45,"s":"1"},
      {"x":19856,"y":-2.38,"s":"1"},{"x":19858,"y":-2.46,"s":"1"},{"x":19860,"y":-2.39,"s":"1"},{"x":19862,"y":-2.45,"s":"1"},
      {"x":19864,"y":-2.37,"s":"1"},{"x":19866,"y":-2.45,"s":"1"},{"x":19868,"y":-2.36,"s":"1"},{"x":19870,"y":-2.45,"s":"1"},
      {"x":19872,"y":-2.35,"s":"1"},{"x":19874,"y":-2.45,"s":"1"},{"x":19876,"y":-2.30,"s":"1"},{"x":19878,"y":-2.45,"s":"1"},
      {"x":19880,"y":-2.38,"s":"1"},{"x":19882,"y":-2.46,"s":"1"},{"x":19884,"y":-2.37,"s":"1"},{"x":19886,"y":-2.46,"s":"1"},
      {"x":19888,"y":-2.41,"s":"1"},{"x":19890,"y":-2.46,"s":"1"},{"x":19892,"y":-2.40,"s":"1"},{"x":19894,"y":-2.46,"s":"1"},
      {"x":19896,"y":-2.37,"s":"1"},{"x":19898,"y":-2.45,"s":"1"},{"x":19900,"y":-2.36,"s":"1"},{"x":19902,"y":-2.45,"s":"1"},
      {"x":19904,"y":-2.35,"s":"1"},{"x":19906,"y":-2.45,"s":"1"},{"x":19908,"y":-2.30,"s":"1"},{"x":19910,"y":-2.45,"s":"1"},
      {"x":19912,"y":-2.38,"s":"1"},{"x":19914,"y":-2.46,"s":"1"},{"x":19916,"y":-2.37,"s":"1"},{"x":19918,"y":-2.45,"s":"1"},
      {"x":19920,"y":-2.36,"s":"1"},{"x":19922,"y":-2.45,"s":"1"},{"x":19924,"y":-2.35,"s":"1"},{"x":19926,"y":-2.45,"s":"1"},
      {"x":19928,"y":-2.34,"s":"1"},{"x":19930,"y":-2.45,"s":"1"},{"x":19932,"y":-2.32,"s":"1"},{"x":19934,"y":-2.44,"s":"1"},
      {"x":19936,"y":-2.33,"s":"1"},{"x":19938,"y":-2.44,"s":"1"},{"x":19940,"y":-2.33,"s":"1"},{"x":19942,"y":-2.44,"s":"1"},
      {"x":19944,"y":-2.31,"s":"1"},{"x":19946,"y":-2.44,"s":"1"},{"x":19948,"y":-2.22,"s":"1"},{"x":19950,"y":-2.44,"s":"1"},
      {"x":19952,"y":-2.34,"s":"1"},{"x":19954,"y":-2.44,"s":"1"},{"x":19956,"y":-2.34,"s":"1"},{"x":19958,"y":-2.45,"s":"1"},
      {"x":19960,"y":-2.32,"s":"1"},{"x":19962,"y":-2.44,"s":"1"},{"x":19964,"y":-2.29,"s":"1"},{"x":19966,"y":-2.44,"s":"1"},
      {"x":19968,"y":-2.30,"s":"1"},{"x":19970,"y":-2.43,"s":"1"},{"x":19972,"y":-2.14,"s":"1"},{"x":19974,"y":-2.43,"s":"1"},
      {"x":19976,"y":-2.31,"s":"1"},{"x":19978,"y":-2.44,"s":"1"},{"x":19980,"y":-2.31,"s":"1"},{"x":19982,"y":-2.44,"s":"1"},
      {"x":19984,"y":-2.33,"s":"1"},{"x":19986,"y":-2.44,"s":"1"},{"x":19988,"y":-2.30,"s":"1"},{"x":19990,"y":-2.44,"s":"1"},
      {"x":19992,"y":-2.34,"s":"1"},{"x":19994,"y":-2.45,"s":"1"},{"x":19996,"y":-2.35,"s":"1"},{"x":19998,"y":-2.45,"s":"1"},
      {"x":20000,"y":-2.40,"s":"1"}
    ],
    "cw": [
      {"x":19000,"y":0.96},{"x":19005,"y":0.94},{"x":19009,"y":0.63},{"x":19013,"y":0.82},{"x":19018,"y":0.74},{"x":19021,"y":0.66},{"x":19024,"y":0.67},{"x":19027,"y":0.76},{"x":19031,"y":0.51},{"x":19036,"y":0.89},{"x":19039,"y":0.92},{"x":19044,"y":0.63},{"x":19049,"y":0.91},{"x":19054,"y":0.71},{"x":19059,"y":0.76},{"x":19061,"y":0.71},{"x":19064,"y":0.80},{"x":19068,"y":0.61},{"x":19073,"y":0.82},{"x":19077,"y":0.86},{"x":19081,"y":0.86},{"x":19083,"y":0.80},{"x":19088,"y":0.90},{"x":19091,"y":0.89},{"x":19095,"y":0.58},{"x":19100,"y":0.76},{"x":19104,"y":0.67},{"x":19108,"y":0.86},{"x":19112,"y":0.93},{"x":19116,"y":0.74},{"x":19122,"y":0.75},{"x":19124,"y":0.85},{"x":19128,"y":0.57},{"x":19132,"y":0.74},{"x":19134,"y":0.70},{"x":19139,"y":1.01},{"x":19143,"y":0.90},{"x":19146,"y":0.88},{"x":19151,"y":0.57},{"x":19156,"y":0.71},{"x":19160,"y":0.63},{"x":19162,"y":0.55},{"x":19165,"y":0.50},{"x":19169,"y":0.77},{"x":19175,"y":0.63},{"x":19178,"y":0.71},{"x":19182,"y":0.55},{"x":19186,"y":0.63},{"x":19189,"y":0.28},{"x":19192,"y":0.62},{"x":19196,"y":0.67},{"x":19201,"y":0.50},{"x":19207,"y":0.46},{"x":19212,"y":0.59},{"x":19215,"y":0.53},{"x":19219,"y":0.78},{"x":19224,"y":0.57},{"x":19229,"y":0.67},{"x":19231,"y":0.65},{"x":19234,"y":0.85},{"x":19240,"y":1.17},{"x":19244,"y":1.17},{"x":19248,"y":1.43},{"x":19251,"y":1.42},{"x":19255,"y":1.34},{"x":19258,"y":1.32},{"x":19262,"y":1.74},{"x":19266,"y":1.32},{"x":19270,"y":1.45},{"x":19273,"y":1.32},{"x":19277,"y":1.39},{"x":19282,"y":1.09},{"x":19287,"y":1.17},{"x":19293,"y":1.22},{"x":19298,"y":0.88},{"x":19304,"y":1.26},{"x":19308,"y":0.90},{"x":19313,"y":0.80},{"x":19315,"y":0.70},{"x":19319,"y":0.62},{"x":19322,"y":0.55},{"x":19325,"y":0.59},{"x":19330,"y":0.67},{"x":19335,"y":0.57},{"x":19341,"y":0.64},{"x":19345,"y":0.43},{"x":19350,"y":0.33},{"x":19354,"y":0.61},{"x":19358,"y":0.62},{"x":19363,"y":0.82},{"x":19366,"y":0.78},{"x":19369,"y":0.62},{"x":19373,"y":0.58},{"x":19378,"y":0.89},{"x":19383,"y":0.78},{"x":19386,"y":0.80},{"x":19391,"y":0.53},{"x":19394,"y":0.63},{"x":19400,"y":1.17},{"x":19404,"y":1.09},{"x":19410,"y":1.32},{"x":19414,"y":1.69},{"x":19420,"y":1.31},{"x":19425,"y":1.61},{"x":19429,"y":1.69},{"x":19434,"y":1.47},{"x":19438,"y":1.28},{"x":19442,"y":1.27},{"x":19446,"y":1.19},{"x":19450,"y":1.20},{"x":19456,"y":1.24},{"x":19461,"y":1.48},{"x":19468,"y":1.26},{"x":19474,"y":1.09},{"x":19477,"y":1.19},{"x":19480,"y":0.96},{"x":19491,"y":0.47},{"x":19495,"y":0.63},{"x":19499,"y":0.55},{"x":19504,"y":0.63},{"x":19506,"y":0.61},{"x":19509,"y":0.66},{"x":19512,"y":0.61},{"x":19516,"y":0.82},{"x":19520,"y":0.77},{"x":19524,"y":0.88},{"x":19529,"y":0.63},{"x":19533,"y":0.84},{"x":19538,"y":0.85},{"x":19541,"y":1.00},{"x":19545,"y":0.69},{"x":19551,"y":0.44},{"x":19557,"y":1.01},{"x":19561,"y":0.88},{"x":19565,"y":1.04},{"x":19569,"y":1.47},{"x":19575,"y":1.00},{"x":19580,"y":1.39},{"x":19585,"y":1.42},{"x":19590,"y":1.28},{"x":19595,"y":1.27},{"x":19599,"y":1.50},{"x":19603,"y":1.39},{"x":19610,"y":1.46},{"x":19615,"y":1.48},{"x":19620,"y":1.18},{"x":19624,"y":1.24},{"x":19631,"y":0.90},{"x":19636,"y":1.12},{"x":19639,"y":1.16},{"x":19643,"y":1.08},{"x":19647,"y":1.11},{"x":19651,"y":0.82},{"x":19655,"y":0.90},{"x":19663,"y":0.32},{"x":19668,"y":0.66},{"x":19674,"y":0.42},{"x":19678,"y":0.50},{"x":19684,"y":0.31},{"x":19689,"y":0.63},{"x":19694,"y":0.45},{"x":19697,"y":0.49},{"x":19701,"y":0.05},{"x":19705,"y":0.50},{"x":19708,"y":0.51},{"x":19712,"y":0.89},{"x":19717,"y":0.55},{"x":19721,"y":0.82},{"x":19725,"y":0.89},{"x":19729,"y":0.59},{"x":19734,"y":0.71},{"x":19738,"y":0.54},{"x":19743,"y":0.34},{"x":19748,"y":0.58},{"x":19752,"y":0.50},{"x":19758,"y":0.74},{"x":19762,"y":0.81},{"x":19767,"y":1.07},{"x":19771,"y":1.16},{"x":19773,"y":1.11},{"x":19777,"y":1.30},{"x":19781,"y":0.99},{"x":19786,"y":0.82},{"x":19790,"y":1.00},{"x":19794,"y":0.78},{"x":19798,"y":1.31},{"x":19803,"y":1.11},{"x":19807,"y":0.93},{"x":19810,"y":1.05},{"x":19815,"y":0.76},{"x":19820,"y":0.84},{"x":19826,"y":0.97},{"x":19832,"y":0.42},{"x":19840,"y":0.94},{"x":19846,"y":0.50},{"x":19850,"y":0.58},{"x":19853,"y":0.47},{"x":19858,"y":1.07},{"x":19865,"y":0.22},{"x":19871,"y":0.45},{"x":19875,"y":0.39},{"x":19881,"y":0.61},{"x":19885,"y":0.88},{"x":19890,"y":0.84},{"x":19894,"y":0.96},{"x":19898,"y":1.02},{"x":19902,"y":0.90},{"x":19907,"y":0.90},{"x":19911,"y":0.99},{"x":19916,"y":0.96},{"x":19921,"y":1.00},{"x":19926,"y":0.96},{"x":19930,"y":1.12},{"x":19933,"y":1.57},{"x":19938,"y":1.19},{"x":19941,"y":0.88},{"x":19946,"y":1.23},{"x":19951,"y":1.13},{"x":19955,"y":1.01},{"x":19960,"y":1.28},{"x":19964,"y":1.34},{"x":19968,"y":1.23},{"x":19974,"y":1.48},{"x":19977,"y":1.17},{"x":19982,"y":0.78},{"x":19985,"y":0.85},{"x":19989,"y":0.59},{"x":19993,"y":1.04},{"x":19996,"y":0.99},{"x":20000,"y":0.96}
    ]
  },
  "layer": [
    {
      "layer": [
        {
          "data": {"name": "grid"},
          "transform": [{"filter": "datum.g % 200 !== 0"}],
          "mark": {"type": "rule", "color": "#a0a0a0", "strokeWidth": 1, "strokeDash": [2, 2]},
          "encoding": {"x": {"field": "g", "type": "quantitative"}}
        },
        {
          "data": {"name": "grid"},
          "transform": [{"filter": "datum.g % 200 === 0"}],
          "mark": {"type": "rule", "color": "#999999", "strokeWidth": 1.2},
          "encoding": {"x": {"field": "g", "type": "quantitative"}}
        },
        {
          "data": {"name": "spec"},
          "mark": {"type": "line", "interpolate": "monotone", "strokeWidth": 1.1},
          "encoding": {
            "x": {"field": "x", "type": "quantitative", "scale": {"domain": [19000, 20000], "nice": false, "zero": false},
              "axis": {"orient": "bottom", "title": null,
                "values": [19000, 19200, 19400, 19600, 19800, 20000], "format": "d",
                "labelFlush": false, "labelOverlap": false, "labelFontSize": 28, "labelColor": "black", "labelPadding": 5,
                "tickSize": 10, "tickWidth": 2, "tickColor": "black", "domainColor": "black", "domainWidth": 2.5, "grid": false}},
            "y": {"field": "y", "type": "quantitative", "scale": {"domain": [-2.5, 2], "nice": false, "zero": false},
              "axis": {"orient": "left", "title": null, "values": [0, 1, 2], "format": ".1f", "labelColor": "#ff0000", "labelFontSize": 28, "labelPadding": 7,
                "tickSize": 12, "tickWidth": 2, "tickColor": "black", "domainColor": "black", "domainWidth": 2.5, "grid": false}},
            "color": {"field": "s", "type": "nominal",
              "scale": {"domain": ["25", "15", "10", "5", "1"], "range": ["#00ff00", "#800000", "#008000", "#ff1493", "#000000"]},
              "legend": {"orient": "none", "legendX": 793, "legendY": 326, "title": null,
                "strokeColor": "black", "fillColor": "white", "padding": 14,
                "symbolType": "M-2.27,0H2.27", "symbolSize": 900, "symbolStrokeWidth": 1.5, "symbolOffset": 10,
                "labelFontSize": 29, "labelFont": "Liberation Sans", "labelColor": "black", "labelAlign": "right", "labelOffset": 123, "rowPadding": 14,
                "labelExpr": "datum.label + ' cm\u207b\u00b9'"}}
          }
        },
        {
          "data": {"name": "black"},
          "mark": {"type": "line", "strokeWidth": 1.1},
          "encoding": {
            "x": {"field": "x", "type": "quantitative"},
            "y": {"field": "y", "type": "quantitative"},
            "color": {"field": "s", "type": "nominal"}
          }
        },
        {
          "data": {"name": "cw"},
          "mark": {"type": "line", "color": "#ff0000", "strokeWidth": 1},
          "encoding": {
            "x": {"field": "x", "type": "quantitative"},
            "y": {"field": "y", "type": "quantitative"}
          }
        },
        {
          "data": {"values": [{}]},
          "mark": {"type": "text", "text": "cw jet (IBBCEAS)", "color": "#ff0000", "fontSize": 29, "align": "right", "baseline": "alphabetic"},
          "encoding": {"x": {"datum": 19981, "type": "quantitative"}, "y": {"datum": 1.676, "type": "quantitative"}}
        },
        {
          "data": {"values": [{}]},
          "mark": {"type": "text", "text": "A in 10\u207b\u00b2 (1-R)", "color": "#ff0000", "fontSize": 28, "align": "center", "baseline": "middle", "angle": 270},
          "encoding": {"x": {"datum": 18885, "type": "quantitative"}, "y": {"datum": 0.924, "type": "quantitative"}}
        },
        {
          "data": {"values": [{}]},
          "mark": {"type": "rule", "color": "black", "strokeWidth": 2.5},
          "encoding": {"x": {"datum": 18986, "type": "quantitative"}, "x2": {"datum": 19016}, "y": {"datum": -0.244, "type": "quantitative"}, "y2": {"datum": -0.177}}
        },
        {
          "data": {"values": [{}]},
          "mark": {"type": "rule", "color": "black", "strokeWidth": 2.5},
          "encoding": {"x": {"datum": 18986, "type": "quantitative"}, "x2": {"datum": 19016}, "y": {"datum": -0.325, "type": "quantitative"}, "y2": {"datum": -0.258}}
        },
        {
          "data": {"values": [{}]},
          "mark": {"type": "text", "text": "~", "color": "black", "fontSize": 22, "align": "center", "baseline": "alphabetic"},
          "encoding": {"x": {"datum": 19446, "type": "quantitative"}, "y": {"datum": 2.75, "type": "quantitative"}}
        },
        {
          "data": {"values": [{}]},
          "mark": {"type": "text", "text": "\u03bd", "color": "black", "fontSize": 28, "align": "left", "baseline": "alphabetic"},
          "encoding": {"x": {"datum": 19438, "type": "quantitative"}, "y": {"datum": 2.607, "type": "quantitative"}}
        },
        {
          "data": {"values": [{}]},
          "mark": {"type": "text", "text": "rel", "color": "black", "fontSize": 17, "align": "left", "baseline": "alphabetic"},
          "encoding": {"x": {"datum": 19458, "type": "quantitative"}, "y": {"datum": 2.51, "type": "quantitative"}}
        },
        {
          "data": {"values": [{}]},
          "mark": {"type": "text", "text": "/ cm", "color": "black", "fontSize": 28, "align": "left", "baseline": "alphabetic"},
          "encoding": {"x": {"datum": 19491, "type": "quantitative"}, "y": {"datum": 2.607, "type": "quantitative"}}
        },
        {
          "data": {"values": [{}]},
          "mark": {"type": "text", "text": "-1", "color": "black", "fontSize": 16, "align": "left", "baseline": "alphabetic"},
          "encoding": {"x": {"datum": 19562, "type": "quantitative"}, "y": {"datum": 2.728, "type": "quantitative"}}
        },
        {
          "data": {"values": [{}]},
          "mark": {"type": "text", "text": "~", "color": "black", "fontSize": 22, "align": "center", "baseline": "alphabetic"},
          "encoding": {"x": {"datum": 19445, "type": "quantitative"}, "y": {"datum": -2.985, "type": "quantitative"}}
        },
        {
          "data": {"values": [{}]},
          "mark": {"type": "text", "text": "\u03bd", "color": "black", "fontSize": 28, "align": "left", "baseline": "alphabetic"},
          "encoding": {"x": {"datum": 19437, "type": "quantitative"}, "y": {"datum": -3.115, "type": "quantitative"}}
        },
        {
          "data": {"values": [{}]},
          "mark": {"type": "text", "text": "abs", "color": "black", "fontSize": 17, "align": "left", "baseline": "alphabetic"},
          "encoding": {"x": {"datum": 19458, "type": "quantitative"}, "y": {"datum": -3.196, "type": "quantitative"}}
        },
        {
          "data": {"values": [{}]},
          "mark": {"type": "text", "text": "/ cm", "color": "black", "fontSize": 28, "align": "left", "baseline": "alphabetic"},
          "encoding": {"x": {"datum": 19505, "type": "quantitative"}, "y": {"datum": -3.115, "type": "quantitative"}}
        },
        {
          "data": {"values": [{}]},
          "mark": {"type": "text", "text": "-1", "color": "black", "fontSize": 16, "align": "left", "baseline": "alphabetic"},
          "encoding": {"x": {"datum": 19576, "type": "quantitative"}, "y": {"datum": -3.0, "type": "quantitative"}}
        }
      ]
    },
    {
      "data": {"values": [{}]},
      "mark": {"type": "rule", "opacity": 0},
      "encoding": {
        "x": {"datum": 19000, "type": "quantitative", "scale": {"domain": [19000, 20000], "nice": false, "zero": false},
          "axis": {"orient": "bottom", "title": null, "labels": false, "domain": false, "grid": false,
            "values": [19050, 19100, 19150, 19250, 19300, 19350, 19450, 19500, 19550, 19650, 19700, 19750, 19850, 19900, 19950],
            "tickSize": 6, "tickWidth": 2, "tickColor": "black"}}
      }
    },
    {
      "data": {"values": [{}]},
      "mark": {"type": "rule", "opacity": 0},
      "encoding": {
        "x": {"datum": 4800, "type": "quantitative", "scale": {"domain": [4715, 5715], "nice": false, "zero": false},
          "axis": {"orient": "top", "title": null, "values": [4800, 5000, 5200, 5400, 5600], "format": "d",
            "labelFlush": false, "labelOverlap": false, "labelFontSize": 28, "labelColor": "black", "labelPadding": -1,
            "tickSize": 11, "tickWidth": 2, "tickColor": "black", "domainColor": "black", "domainWidth": 2.5, "grid": false}}
      }
    },
    {
      "data": {"values": [{}]},
      "mark": {"type": "rule", "opacity": 0},
      "encoding": {
        "x": {"datum": 4800, "type": "quantitative", "scale": {"domain": [4715, 5715], "nice": false, "zero": false},
          "axis": {"orient": "top", "title": null, "values": [4900, 5100, 5300, 5500, 5700], "labels": false, "domain": false,
            "tickSize": 6, "tickWidth": 2, "tickColor": "black", "grid": false}}
      }
    },
    {
      "data": {"values": [{}]},
      "mark": {"type": "rule", "opacity": 0},
      "encoding": {
        "y": {"datum": 0, "type": "quantitative", "scale": {"domain": [0, 20], "nice": false, "zero": false},
          "axis": {"orient": "right", "title": null, "values": [1,2,3,4,5,6,7,8,9,10,11,12,13,14,15,16,17,18,19], "labels": false,
            "tickSize": -6, "tickWidth": 1.5, "tickColor": "black", "domainColor": "black", "domainWidth": 2.5, "grid": false}}
      }
    },
    {
      "data": {"values": [{}]},
      "mark": {"type": "rule", "opacity": 0},
      "encoding": {
        "y": {"datum": 0, "type": "quantitative", "scale": {"domain": [0, 12], "nice": false, "zero": false},
          "axis": {"orient": "left", "title": null, "values": [1,2,3,4,5,6,7,8,9,10,11], "labels": false, "domain": false,
            "tickSize": -5, "tickWidth": 1.5, "tickColor": "black", "grid": false}}
      }
    }
  ],
  "resolve": {"scale": {"x": "independent", "y": "independent"}}
}
